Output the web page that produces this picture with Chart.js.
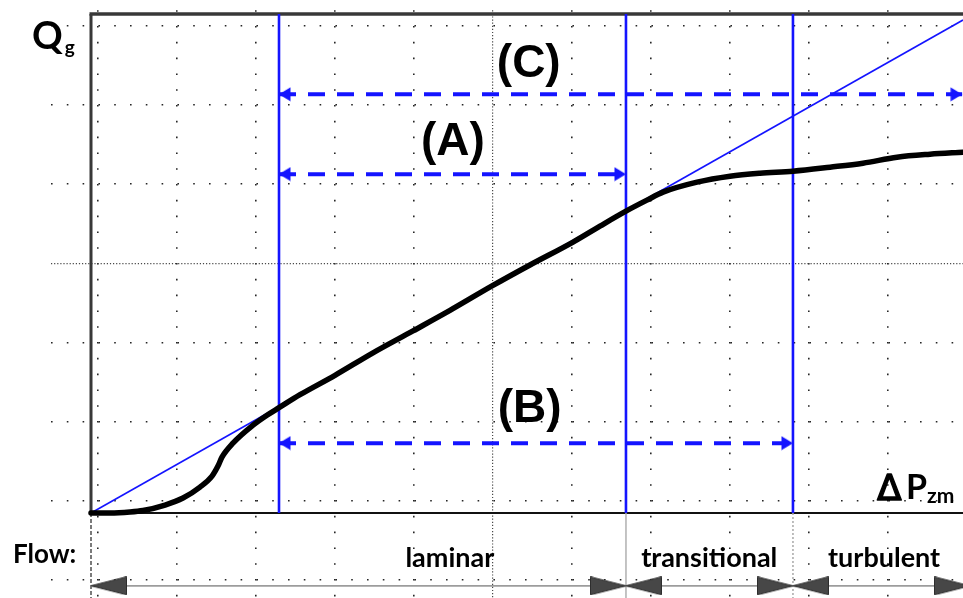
<!DOCTYPE html>
<html>
<head>
<meta charset="utf-8">
<script src="https://cdn.jsdelivr.net/npm/chart.js@4/dist/chart.umd.min.js"></script>
<style>
  html, body { margin: 0; padding: 0; background: #fff; }
  canvas { display: block; }
</style>
</head>
<body>
<canvas id="chart" width="963" height="598"></canvas>
<script>
// Pressure drop ΔP_zm (relative units, 0–100 across the frame)
const dP = [0, 2.18, 4.47, 5.96, 8.49, 10.55, 12.5, 13.88, 14.56, 15.02, 16.28, 18.58, 20.18, 21.56,
            23.97, 27.98, 32.34, 36.93, 41.17, 45.99, 50.34, 55.28, 58.37, 61.35,
            63.76, 65.6, 69.5, 73.28, 76.72, 80.5, 84.75, 88.53, 92.43, 96.22, 100];
// Gas flow rate Q_g (relative units)
const Qg = [0, 0, 0.2, 0.5, 1.6, 3.0, 5.2, 7.4, 9.4, 11.2, 14.0, 17.6, 19.6, 21.1,
            23.7, 27.6, 32.1, 36.5, 40.6, 45.5, 49.7, 54.3, 57.5, 60.5,
            62.7, 64.3, 66.3, 67.5, 68.1, 68.5, 69.3, 70.1, 71.3, 71.9, 72.3];

// Straight (ideal laminar) characteristic through the origin
const tangentDP = [0, 100];
const tangentQg = [0, 98.8];

// Start of the linear part and the regime limits along ΔP
const linearStart = 21.56;
const regimeEdges = [0, 61.35, 80.5, 100.8];
const regimeNames = ['laminar', 'transitional', 'turbulent'];

// Measuring ranges: all start at linearStart
const rangeNames = ['(A)', '(B)', '(C)'];
const rangeEnds = [61.35, 80.5, 99.9];

// ---- layout ----
const X_MAX = 100, Y_MAX = 100;
const FRAME = { left: 91, right: 963, top: 14, bottom: 513 };
const AREA = { left: 50.6, top: 10.2, right: 963, bottom: 598 };
const GRID = { x0: 98, y0: 26, dx: 79, dy: 79.1, cols: 11, rows: 8, centreCol: 5, centreRow: 3 };
const pxX = (FRAME.right - FRAME.left) / X_MAX;
const pxY = (FRAME.bottom - FRAME.top) / Y_MAX;
const RANGE_ROWS = [67.9, 14.0, 83.9];      // height of the (A), (B), (C) arrows
const RANGE_LABELS = [[41.5, 71.7], [50.3, 18.2], [50.2, 87.4]];
const FLOW_ROW = -14.6;
const FLOW_TEXT = [[41.15, -10.8], [70.9, -10.8], [90.95, -10.8]];

const BLUE = '#1414ff';

function arrowHead(len, half, fill, stroke) {
  // tip sits in the canvas centre so the point value marks the tip
  const c = document.createElement('canvas');
  c.width = len * 2; c.height = Math.ceil(half * 2 + 1);
  const g = c.getContext('2d');
  g.beginPath();
  g.moveTo(0.5, 0.5);
  g.lineTo(len, c.height / 2);
  g.lineTo(0.5, c.height - 0.5);
  g.closePath();
  g.fillStyle = fill; g.fill();
  if (stroke) { g.strokeStyle = stroke; g.lineWidth = 1; g.stroke(); }
  return c;
}
const blueHead = arrowHead(12, 7, BLUE);
const greyHead = arrowHead(36, 9, '#474747', '#2e2e2e');

const seg = (x1, y1, x2, y2) => [{ x: x1, y: y1 }, { x: x2, y: y2 }];
const axes = { xAxisID: 'x', yAxisID: 'y' };

const datasets = [];

// measured characteristic
datasets.push({ ...axes, data: dP.map((x, i) => ({ x, y: Qg[i] })), borderColor: '#000', borderWidth: 5.5,
  pointRadius: 0, cubicInterpolationMode: 'monotone', borderJoinStyle: 'round', borderCapStyle: 'round', order: 0 });

// ideal straight line
datasets.push({ ...axes, data: tangentDP.map((x, i) => ({ x, y: tangentQg[i] })), borderColor: BLUE, borderWidth: 1.6,
  pointRadius: 0, order: 3 });

// vertical limits
[linearStart, regimeEdges[1], regimeEdges[2]].forEach(b => {
  datasets.push({ ...axes, data: seg(b, 0, b, Y_MAX), borderColor: BLUE, borderWidth: 2.6, pointRadius: 0, order: 4 });
});

// measuring range arrows
rangeEnds.forEach((end, i) => {
  datasets.push({ ...axes, data: seg(linearStart, RANGE_ROWS[i], end, RANGE_ROWS[i]), borderColor: BLUE, borderWidth: 4,
    borderDash: [17, 12], pointStyle: blueHead, pointRotation: [180, 0], pointRadius: 10, order: 2 });
});

// flow regime arrows below the axis
regimeNames.forEach((name, i) => {
  datasets.push({ ...axes, data: seg(regimeEdges[i], FLOW_ROW, regimeEdges[i + 1], FLOW_ROW), borderColor: '#9c9c9c',
    borderWidth: 1.6, pointStyle: greyHead, pointRotation: [180, 0], pointRadius: 20, order: 2 });
});

// regime separators below the axis
const sepStyles = [
  { borderColor: '#7a7a7a', borderWidth: 2, borderDash: [4, 2] },
  { borderColor: '#b0b0b0', borderWidth: 1.5, borderDash: [] },
  { borderColor: '#a8a8a8', borderWidth: 1.5, borderDash: [2, 2] }
];
[regimeEdges[0], regimeEdges[1], regimeEdges[2]].forEach((e, i) => {
  datasets.push({ ...axes, data: seg(e, 0, e, -100), pointRadius: 0, order: 5, ...sepStyles[i] });
});

const framePlugin = {
  id: 'frame',
  beforeDatasetsDraw(chart) {
    const { ctx, scales: { x, y } } = chart;
    const l = x.getPixelForValue(0), r = x.getPixelForValue(X_MAX);
    const b = y.getPixelForValue(0), t = y.getPixelForValue(Y_MAX);
    ctx.save();
    ctx.strokeStyle = '#383838';
    ctx.lineWidth = 3.5;
    ctx.beginPath(); ctx.moveTo(l - 1.5, t); ctx.lineTo(r, t); ctx.stroke();
    ctx.lineWidth = 3;
    ctx.beginPath(); ctx.moveTo(l, t); ctx.lineTo(l, b); ctx.stroke();
    ctx.strokeStyle = '#111';
    ctx.lineWidth = 2;
    ctx.beginPath(); ctx.moveTo(l, b); ctx.lineTo(r, b); ctx.stroke();
    ctx.restore();
  }
};

const textPlugin = {
  id: 'texts',
  afterDatasetsDraw(chart) {
    const { ctx, scales: { x, y } } = chart;
    const px = v => x.getPixelForValue(v), py = v => y.getPixelForValue(v);
    ctx.save();
    ctx.fillStyle = '#000';
    ctx.strokeStyle = '#000';
    ctx.textBaseline = 'alphabetic';

    ctx.textAlign = 'center';
    ctx.font = 'bold 46px "Liberation Sans", Arial, sans-serif';
    rangeNames.forEach((t, i) => ctx.fillText(t, px(RANGE_LABELS[i][0]), py(RANGE_LABELS[i][1])));

    ctx.font = 'bold 27px Lato, sans-serif';
    regimeNames.forEach((t, i) => ctx.fillText(t, px(FLOW_TEXT[i][0]), py(FLOW_TEXT[i][1])));

    ctx.textAlign = 'left';
    const l = px(0), b = py(0), t = py(Y_MAX);
    // y-axis name
    ctx.font = 'bold 38px Lato, sans-serif';
    ctx.fillText('Q', l - 59, t + 35);
    const qw = ctx.measureText('Q').width;
    ctx.font = 'bold 19px Lato, sans-serif';
    ctx.fillText('g', l - 59 + qw + 2, t + 40);
    // x-axis name
    ctx.font = '36px "DejaVu Sans", sans-serif';
    ctx.lineWidth = 1.4;
    ctx.lineJoin = 'round';
    ctx.fillText('\u0394', px(X_MAX) - 86, b - 13);
    ctx.strokeText('\u0394', px(X_MAX) - 86, b - 13);
    ctx.font = 'bold 34px Lato, sans-serif';
    ctx.fillText('P', px(X_MAX) - 57, b - 14);
    ctx.font = 'bold 21px Lato, sans-serif';
    ctx.fillText('zm', px(X_MAX) - 36, b - 10);
    // regime row caption
    ctx.font = 'bold 26px Lato, sans-serif';
    ctx.fillText('Flow:', l - 78, py(-10.0));
    ctx.restore();
  }
};

const gridScale = (axis, cells, isCentre, extra) => ({
  type: 'linear',
  axis,
  display: true,
  ...extra,
  afterBuildTicks: s => { s.ticks = Array.from({ length: cells }, (_, k) => ({ value: k })); },
  ticks: { display: false },
  border: { display: false, dash: c => (c.tick && c.tick.value === isCentre) ? [1.2, 1.9] : [1.6, GRID.dx / 5 - 1.6] },
  grid: {
    drawTicks: false,
    color: c => (c.tick && c.tick.value === isCentre) ? '#4a4a4a' : '#262626',
    lineWidth: c => (c.tick && c.tick.value === isCentre) ? 1.2 : 1.6
  }
});

new Chart(document.getElementById('chart'), {
  type: 'line',
  data: { datasets },
  options: {
    responsive: false,
    animation: false,
    events: [],
    devicePixelRatio: 1,
    layout: { autoPadding: false, padding: { left: AREA.left, top: AREA.top, right: 0, bottom: 0 } },
    plugins: { legend: { display: false }, tooltip: { enabled: false } },
    scales: {
      x: { type: 'linear', display: false,
           min: -(FRAME.left - AREA.left) / pxX, max: X_MAX + (AREA.right - FRAME.right) / pxX },
      y: { type: 'linear', display: false,
           min: -(AREA.bottom - FRAME.bottom) / pxY, max: Y_MAX + (FRAME.top - AREA.top) / pxY },
      gx: gridScale('x', GRID.cols, GRID.centreCol, { position: 'bottom',
           min: (AREA.left - GRID.x0) / GRID.dx, max: (AREA.right - GRID.x0) / GRID.dx }),
      gy: gridScale('y', GRID.rows, GRID.centreRow, { position: 'left', reverse: true,
           min: (AREA.top - GRID.y0) / GRID.dy, max: (AREA.bottom - GRID.y0) / GRID.dy })
    }
  },
  plugins: [framePlugin, textPlugin]
});
</script>
</body>
</html>
